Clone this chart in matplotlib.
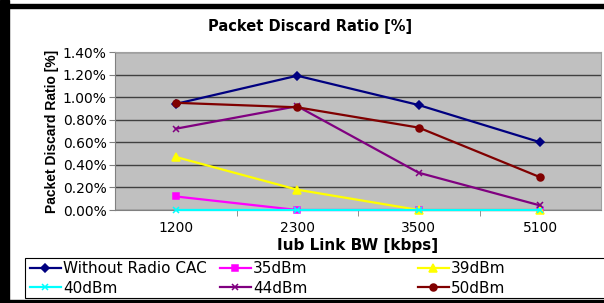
import matplotlib
matplotlib.use('Agg')
import matplotlib.pyplot as plt
from matplotlib.patches import Rectangle

# data
bw_labels = ['1200', '2300', '3500', '5100']
without_cac = [0.94, 1.19, 0.93, 0.60]
dbm35 = [0.12, 0.00, 0.00, 0.00]
dbm39 = [0.47, 0.18, 0.00, 0.00]
dbm40 = [0.00, 0.00, 0.00, 0.00]
dbm44 = [0.72, 0.92, 0.33, 0.04]
dbm50 = [0.95, 0.91, 0.73, 0.29]

# wide font: the reference text looks stretched sideways
plt.rcParams['font.family'] = ['DejaVu Sans']

W, H = 604, 303
fig = plt.figure(figsize=(W / 100, H / 100), dpi=100)
fig.patch.set_facecolor('white')

# outer black frame (left, top, bottom)
fig.patches.append(Rectangle((0, 0), 9 / W, 1, transform=fig.transFigure, color='black'))
fig.patches.append(Rectangle((0, 1 - 8 / H), 1, 4 / H, transform=fig.transFigure, color='black'))
fig.patches.append(Rectangle((0, 0), 1, 3 / H, transform=fig.transFigure, color='black'))

# plot area in pixels: x 115..601, y 52..210
ax = fig.add_axes([115 / W, 1 - 210 / H, 486 / W, 158 / H])
ax.set_facecolor('#c0c0c0')

x = range(len(bw_labels))
series = [
    ('Without Radio CAC', without_cac, '#000080', 'D', 4),
    ('35dBm', dbm35, '#ff00ff', 's', 5),
    ('39dBm', dbm39, '#ffff00', '^', 6),
    ('40dBm', dbm40, '#00ffff', 'x', 5),
    ('44dBm', dbm44, '#800080', 'x', 5),
    ('50dBm', dbm50, '#800000', 'o', 5),
]
handles = []
for name, vals, col, mk, ms in series:
    h, = ax.plot(x, vals, color=col, marker=mk, markersize=ms, linewidth=1.6,
                 markeredgewidth=1.1, label=name, clip_on=False, zorder=3)
    handles.append(h)

ax.set_xlim(-0.5, len(bw_labels) - 0.5)
ax.set_ylim(0, 1.4)
ax.set_yticks([i * 0.2 for i in range(8)])
ax.set_yticklabels(['%.2f%%' % (i * 0.2) for i in range(8)], fontsize=10)
ax.yaxis.grid(True, color='#404040', linewidth=1)
ax.set_axisbelow(True)

ax.set_xticks(list(x))
ax.set_xticklabels(bw_labels, fontsize=10)
ax.tick_params(axis='x', length=0, pad=8)
ax.set_xticks([0.5, 1.5, 2.5], minor=True)
ax.tick_params(axis='x', which='minor', length=4, color='#808080')
ax.tick_params(axis='y', length=4.5, color='#808080', pad=1.5)

for s in ['top', 'right']:
    ax.spines[s].set_color('#a0a0a0')
for s in ['left', 'bottom']:
    ax.spines[s].set_color('#808080')

ax.set_xlabel('Iub Link BW [kbps]', fontsize=11, fontweight='bold', labelpad=2)
ax.set_ylabel('Packet Discard Ratio [%]', fontsize=10, fontweight='bold', labelpad=3,
              family='Liberation Sans')
fig.text(310 / W, 1 - 27 / H, 'Packet Discard Ratio [%]', ha='center', va='center',
         fontsize=10.5, fontweight='bold')

# legend box spanning to the right edge, three equal-width columns
fig.patches.append(Rectangle((25 / W, 1 - 298 / H), 1, 40 / H, transform=fig.transFigure,
                             facecolor='white', edgecolor='black', linewidth=0.8))
col_x = [30, 220, 418]
for c in range(3):
    leg = fig.legend(handles=[handles[c], handles[c + 3]], loc='upper left',
                     bbox_to_anchor=(col_x[c] / W, 1 - 261 / H), ncol=1, fontsize=11,
                     frameon=False, handlelength=2.0, handletextpad=0.15,
                     labelspacing=0.3, borderpad=0, borderaxespad=0)

fig.savefig('out.png', dpi=100)
